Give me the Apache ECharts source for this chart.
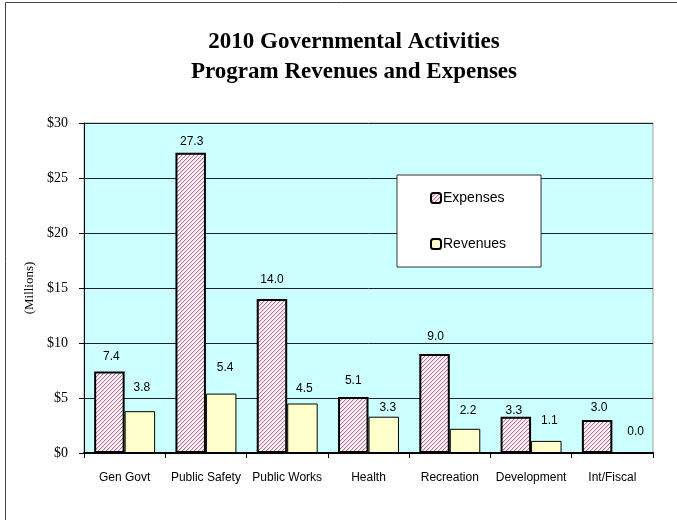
<!DOCTYPE html>
<html>
<head>
<meta charset="utf-8">
<script src="https://cdn.jsdelivr.net/npm/echarts@6/dist/echarts.min.js"></script>
<style>
  html, body { margin: 0; padding: 0; background: #fff; }
  #chart { width: 677px; height: 520px; }
</style>
</head>
<body>
<div id="chart"></div>
<script>
// Program categories and amounts (millions of dollars)
const categories = ['Gen Govt', 'Public Safety', 'Public Works', 'Health', 'Recreation', 'Development', 'Int/Fiscal'];
const expenses = [7.4, 27.3, 14.0, 5.1, 9.0, 3.3, 3.0];
const revenues = [3.8, 5.4, 4.5, 3.3, 2.2, 1.1, 0.0];
const yTicks = { min: 0, max: 30, interval: 5 };

// Hand-placed label nudges [dx, dy] in pixels
const expenseLabelNudge = [[2, -8], [1, -4], [0, -12], [0, -9], [1, -10], [-2, 1], [2, -5]];
const revenueLabelNudge = [[2, -17], [4, -19], [2, -8], [4, -2], [3, -11], [3, -13], [8, -14]];

const sans = "'Liberation Sans Narrow', 'Arial Narrow', 'Liberation Sans', Arial, sans-serif";
const serif = "'Liberation Serif', 'Times New Roman', serif";

// Upward diagonal hatch used for the expense bars
function hatchPattern() {
  const n = 4;
  const c = document.createElement('canvas');
  c.width = n; c.height = n;
  const g = c.getContext('2d');
  g.fillStyle = '#ffffff';
  g.fillRect(0, 0, n, n);
  for (let x = 0; x < n; x++) {
    for (let y = 0; y < n; y++) {
      const k = (x + y) % n;
      if (k === 0) { g.fillStyle = '#c07398'; g.fillRect(x, y, 1, 1); }
      else if (k === 1) { g.fillStyle = '#ebcddb'; g.fillRect(x, y, 1, 1); }
    }
  }
  return c;
}

function labelled(values, nudges) {
  return values.map((v, i) => ({
    value: v,
    label: { offset: nudges[i] }
  }));
}

const valueLabel = {
  show: true,
  position: 'top',
  distance: 0,
  fontFamily: sans,
  fontSize: 12,
  lineHeight: 14,
  color: '#000',
  formatter: p => p.value.toFixed(1)
};

const chart = echarts.init(document.getElementById('chart'), null, { renderer: 'canvas' });

chart.setOption({
  backgroundColor: '#ffffff',
  animation: false,
  title: {
    text: '2010 Governmental Activities\nProgram Revenues and Expenses',
    left: 349,
    textAlign: 'center',
    top: 22,
    textStyle: {
      fontFamily: serif,
      fontWeight: 'bold',
      fontSize: 23,
      lineHeight: 30,
      color: '#000'
    }
  },
  legend: {
    orient: 'vertical',
    left: 397,
    top: 175,
    padding: [16, 35, 16, 33],
    itemGap: 32,
    itemWidth: 10,
    itemHeight: 10,
    backgroundColor: '#ffffff',
    borderColor: '#333',
    borderWidth: 1,
    textStyle: { fontFamily: sans, fontSize: 14, color: '#000', padding: [0, 0, 0, -3] },
    data: ['Expenses', 'Revenues']
  },
  grid: {
    left: 84,
    right: 24,
    top: 123,
    bottom: 67,
    show: true,
    backgroundColor: '#ccffff',
    borderColor: '#a0a0a0',
    borderWidth: 1
  },
  xAxis: {
    type: 'category',
    data: categories,
    axisLine: { lineStyle: { color: '#000', width: 2 } },
    axisTick: { show: true, length: 5, lineStyle: { color: '#000', width: 1 } },
    axisLabel: { interval: 0, fontFamily: sans, fontSize: 12, color: '#000', margin: 19 }
  },
  yAxis: {
    type: 'value',
    min: yTicks.min,
    max: yTicks.max,
    interval: yTicks.interval,
    name: '(Millions)',
    nameLocation: 'middle',
    nameGap: 48,
    nameTextStyle: { fontFamily: serif, fontSize: 13, color: '#000' },
    axisLine: { show: true, lineStyle: { color: '#000', width: 1 } },
    axisTick: { show: true, length: 5, lineStyle: { color: '#000' } },
    splitLine: { show: true, lineStyle: { color: '#222', width: 1 } },
    axisLabel: {
      fontFamily: serif,
      fontSize: 14,
      color: '#000',
      margin: 16,
      formatter: v => '$' + v
    }
  },
  series: [
    {
      name: 'Expenses',
      type: 'bar',
      data: labelled(expenses, expenseLabelNudge),
      barGap: '0%',
      barCategoryGap: '25%',
      itemStyle: {
        color: { image: hatchPattern(), repeat: 'repeat' },
        borderColor: '#000',
        borderWidth: 2
      },
      label: valueLabel
    },
    {
      name: 'Revenues',
      type: 'bar',
      data: labelled(revenues, revenueLabelNudge),
      barGap: '0%',
      barCategoryGap: '25%',
      itemStyle: {
        color: '#ffffcc',
        borderColor: '#000',
        borderWidth: 1
      },
      label: valueLabel
    }
  ],
  graphic: [
    {
      type: 'rect',
      silent: true,
      z: 100,
      shape: { x: 5.5, y: 2.5, width: 720, height: 560 },
      style: { fill: 'none', stroke: '#444', lineWidth: 1 }
    }
  ]
});
</script>
</body>
</html>
